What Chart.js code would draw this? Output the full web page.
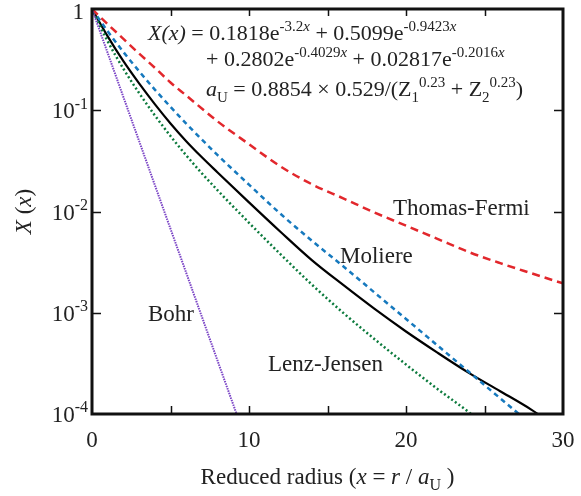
<!DOCTYPE html>
<html>
<head>
<meta charset="utf-8">
<script src="https://cdn.jsdelivr.net/npm/chart.js@4.4.1/dist/chart.umd.min.js"></script>
<style>
  html, body { margin: 0; padding: 0; background: #fff; }
  canvas { display: block; }
</style>
</head>
<body>
<canvas id="screening" width="581" height="496"></canvas>
<script>
// values
const tfX = [0, 1, 2, 3, 4, 5, 6, 8, 10, 12, 14, 16, 18, 20, 22, 24, 26, 28, 30];
const tfY = [1, 0.708, 0.507, 0.363, 0.263, 0.188, 0.140, 0.0776, 0.0462, 0.0279, 0.0186, 0.0135,
  0.00977, 0.00724, 0.00537, 0.00398, 0.00309, 0.00245, 0.00195];

const molX = [0, 1, 2, 3, 4, 5, 6, 7, 8, 10, 12, 14, 16, 18, 20, 22, 24, 26, 27.3];
const molY = [1, 0.603, 0.376, 0.243, 0.160, 0.108, 0.0738, 0.0513, 0.0361, 0.0184, 0.0095,
  0.00515, 0.00288, 0.00158, 0.000868, 0.000476, 0.000261, 0.000143, 0.0000968];

const univX = [0, 1, 2, 3, 4, 5, 6, 7, 8, 10, 12, 14, 16, 18, 20, 22, 24, 26, 28, 28.5];
const univY = [1, 0.537, 0.305, 0.184, 0.115, 0.0741, 0.0495, 0.0343, 0.0243, 0.0123, 0.00631,
  0.00331, 0.00188, 0.00109, 0.000653, 0.000404, 0.000255, 0.000168, 0.000110, 0.0000975];

const ljX = [0, 1, 2, 3, 4, 5, 6, 7, 8, 10, 12, 14, 16, 18, 20, 22, 24, 24.3];
const ljY = [1, 0.479, 0.257, 0.148, 0.0891, 0.0556, 0.0359, 0.0238, 0.0162, 0.00774, 0.00379,
  0.0019, 0.000998, 0.000548, 0.000308, 0.000177, 0.000104, 0.0000950];

const bohrX = [0, 2, 4, 6, 8, 9.2];
const bohrY = [1, 0.135, 0.0183, 0.00248, 0.000335, 0.000101];

const xTicks = [0, 10, 20, 30];
const xMinor = [5, 10, 15, 20, 25];
const yTicks = [1, 0.1, 0.01, 0.001, 0.0001];
const yExp = ['', '-1', '-2', '-3', '-4'];

const SERIF = '"Liberation Serif", "Times New Roman", serif';

function pts(xs, ys) {
  return xs.map((v, i) => ({ x: v, y: ys[i] }));
}

// draws a run of text pieces; flags: i = italic, ^ = superscript, _ = subscript
function rich(ctx, x, y, parts, size, align) {
  const fontFor = f => (f.includes('i') ? 'italic ' : '') +
    ((f.includes('^') || f.includes('_')) ? Math.round(size * 0.7) : size) + 'px ' + SERIF;
  let total = 0;
  parts.forEach(p => { ctx.font = fontFor(p[1]); total += ctx.measureText(p[0]).width; });
  let cx = align === 'center' ? x - total / 2 : align === 'right' ? x - total : x;
  ctx.textAlign = 'left';
  ctx.textBaseline = 'alphabetic';
  parts.forEach(p => {
    ctx.font = fontFor(p[1]);
    let dy = 0;
    if (p[1].includes('^')) dy = -size * 0.42;
    if (p[1].includes('_')) dy = size * 0.25;
    ctx.fillText(p[0], cx, y + dy);
    cx += ctx.measureText(p[0]).width;
  });
}

const decor = {
  id: 'decor',
  afterDraw(chart) {
    const { ctx, chartArea: a, scales: { x, y } } = chart;
    ctx.save();
    ctx.strokeStyle = '#111';
    ctx.fillStyle = '#222';

    ctx.lineWidth = 1.5;
    ctx.beginPath();
    xMinor.forEach(v => {
      const px = Math.round(x.getPixelForValue(v)) + 0.5;
      ctx.moveTo(px, a.bottom); ctx.lineTo(px, a.bottom - 8);
      ctx.moveTo(px, a.top); ctx.lineTo(px, a.top + 7);
    });
    yTicks.slice(1, 4).forEach(v => {
      const py = Math.round(y.getPixelForValue(v)) + 0.5;
      ctx.moveTo(a.left, py); ctx.lineTo(a.left + 9, py);
      ctx.moveTo(a.right, py); ctx.lineTo(a.right - 9, py);
    });
    ctx.stroke();

    ctx.lineWidth = 3;
    ctx.strokeRect(a.left, a.top, a.right - a.left, a.bottom - a.top);

    // tick labels
    ctx.font = '23px ' + SERIF;
    ctx.textAlign = 'center';
    ctx.textBaseline = 'alphabetic';
    xTicks.forEach(v => ctx.fillText(String(v), x.getPixelForValue(v), 447));
    yTicks.forEach((v, i) => {
      const py = y.getPixelForValue(v);
      if (i === 0) rich(ctx, 84, py + 10, [['1', '']], 23, 'right');
      else rich(ctx, 88, py + 8, [['10', ''], [yExp[i], '^']], 23, 'right');
    });

    // axis titles
    rich(ctx, (a.left + a.right) / 2, 484,
      [['Reduced radius (', ''], ['x', 'i'], [' = ', ''], ['r', 'i'], [' / ', ''], ['a', 'i'], ['U', '_'], [' )', '']],
      23, 'center');
    ctx.save();
    ctx.translate(31, (a.top + a.bottom) / 2);
    ctx.rotate(-Math.PI / 2);
    rich(ctx, 0, 0, [['X', 'i'], [' (', ''], ['x', 'i'], [')', '']], 23, 'center');
    ctx.restore();

    // formula
    rich(ctx, 148, 40, [['X(x)', 'i'], [' = 0.1818e', ''], ['-3.2', '^'], ['x', '^i'],
      [' + 0.5099e', ''], ['-0.9423', '^'], ['x', '^i']], 22, 'left');
    rich(ctx, 206, 66, [['+ 0.2802e', ''], ['-0.4029', '^'], ['x', '^i'],
      [' + 0.02817e', ''], ['-0.2016', '^'], ['x', '^i']], 22, 'left');
    rich(ctx, 206, 96, [['a', 'i'], ['U', '_'], [' = 0.8854 \u00d7 0.529/(Z', ''], ['1', '_'], ['0.23', '^'],
      [' + Z', ''], ['2', '_'], ['0.23', '^'], [')', '']], 22, 'left');

    // curve labels
    ctx.font = '23px ' + SERIF;
    ctx.textAlign = 'left';
    ctx.fillText('Thomas-Fermi', 393, 215);
    ctx.fillText('Moliere', 340, 263);
    ctx.fillText('Bohr', 148, 321);
    ctx.fillText('Lenz-Jensen', 268, 371);
    ctx.restore();
  }
};

const line = (data, color, width, dash) => ({
  data, borderColor: color, borderWidth: width, borderDash: dash,
  pointRadius: 0, fill: false, cubicInterpolationMode: 'monotone'
});

new Chart(document.getElementById('screening'), {
  type: 'line',
  data: {
    datasets: [
      line(pts(bohrX, bohrY), '#7b45c6', 2, [1.5, 1]),
      line(pts(tfX, tfY), '#e2272c', 2.5, [8, 5]),
      line(pts(ljX, ljY), '#0b7a3c', 2.5, [2, 2.5]),
      line(pts(molX, molY), '#1679be', 2.5, [5, 4]),
      line(pts(univX, univY), '#000000', 2.2, [])
    ]
  },
  options: {
    responsive: false,
    devicePixelRatio: 1,
    animation: false,
    layout: { padding: { left: 92, right: 18, top: 9, bottom: 82 } },
    plugins: { legend: { display: false }, tooltip: { enabled: false } },
    scales: {
      x: { type: 'linear', display: false, min: 0, max: 30 },
      y: { type: 'logarithmic', display: false, min: 0.0001, max: 1 }
    }
  },
  plugins: [decor]
});
</script>
</body>
</html>
